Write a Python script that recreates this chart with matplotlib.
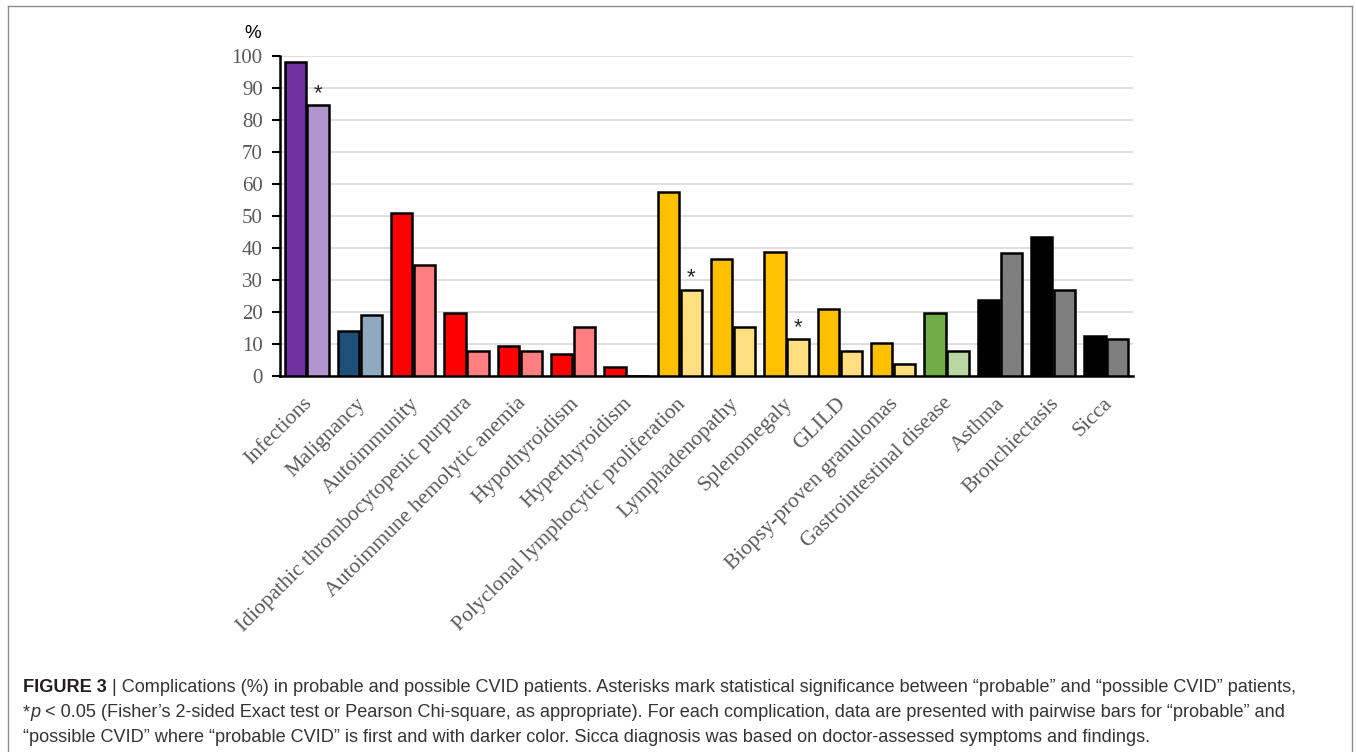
import matplotlib
matplotlib.use("Agg")
import matplotlib.pyplot as plt
import matplotlib.transforms as mtransforms
from matplotlib.lines import Line2D
import numpy as np

categories = [
    "Infections", "Malignancy", "Autoimmunity",
    "Idiopathic thrombocytopenic purpura", "Autoimmune hemolytic anemia",
    "Hypothyroidism", "Hyperthyroidism", "Polyclonal lymphocytic proliferation",
    "Lymphadenopathy", "Splenomegaly", "GLILD", "Biopsy-proven granulomas",
    "Gastrointestinal disease", "Asthma", "Bronchiectasis", "Sicca",
]
probable = [98.0, 14.2, 50.9, 19.8, 9.4, 6.8, 2.7, 57.5, 36.7, 38.7, 20.8, 10.4, 19.8, 23.7, 43.4, 12.5]
possible = [84.6, 19.2, 34.6, 7.7, 7.7, 15.4, 0.0, 26.9, 15.4, 11.5, 7.7, 3.8, 7.7, 38.5, 26.9, 11.5]
significant = [True, False, False, False, False, False, False, True,
               False, True, False, False, False, False, False, False]
yticks = [0, 10, 20, 30, 40, 50, 60, 70, 80, 90, 100]

dark_colors = ["#7030A0", "#1F4E79"] + ["#FF0000"] * 5 + ["#FFC000"] * 5 + ["#70AD47"] + ["#000000"] * 3
light_colors = ["#B294CF", "#8FA9C1"] + ["#FF7F80"] * 5 + ["#FFDF80"] * 5 + ["#B8D7A2"] + ["#7F7F7F"] * 3

W, H = 1356, 752
fig = plt.figure(figsize=(W / 100, H / 100), dpi=100)
ax = fig.add_axes([280 / W, 1 - 376 / H, (1133 - 280) / W, (376 - 56) / H])

x = np.arange(len(categories))
bw = 0.40
off = 0.215
ax.bar(x - off, probable, width=bw, color=dark_colors, edgecolor="black", linewidth=1.8, zorder=3)
ax.bar(x + off, possible, width=bw, color=light_colors, edgecolor="black", linewidth=1.8, zorder=3)

for xi, v, s in zip(x, possible, significant):
    if s:
        ax.text(xi + off, v + 2.0, "*", ha="center", va="baseline", fontsize=16,
                family=["Liberation Sans"], color="#262626", zorder=4)

ax.set_xlim(-0.5, len(categories) - 0.5)
ax.set_ylim(0, 100)
ax.set_yticks(yticks)
ax.set_yticklabels([str(t) for t in yticks], family=["Liberation Serif"], fontsize=15, color="#595959")
ax.yaxis.grid(True, color="#D9D9D9", linewidth=1.2, zorder=0)
ax.set_axisbelow(True)
ax.tick_params(axis="y", direction="out", length=5.5, width=1.5, pad=7, color="black")
ax.tick_params(axis="x", length=0, pad=13)
ax.set_xticks(x)
ax.set_xticklabels(categories, rotation=45, ha="right", va="top", rotation_mode="anchor",
                   family=["Liberation Serif"], fontsize=15.6, color="#595959")
shift = mtransforms.ScaledTranslation(-4 / 100, 0, fig.dpi_scale_trans)
for lab in ax.get_xticklabels():
    lab.set_transform(lab.get_transform() + shift)
for spine in ["top", "right"]:
    ax.spines[spine].set_visible(False)
ax.spines["left"].set_linewidth(1.8)
ax.spines["bottom"].set_linewidth(1.8)

fig.text(253 / W, 1 - 33 / H, "%", ha="center", va="center", fontsize=13.5,
         family=["Liberation Sans"], color="black")

# frame around the figure area
frame_color = "#8C8C8C"
fig.add_artist(Line2D([8 / W, 8 / W], [0, 1 - 6 / H], transform=fig.transFigure, color=frame_color, lw=1.0))
fig.add_artist(Line2D([1352 / W, 1352 / W], [0, 1 - 6 / H], transform=fig.transFigure, color=frame_color, lw=1.0))
fig.add_artist(Line2D([8 / W, 1352 / W], [1 - 6 / H, 1 - 6 / H], transform=fig.transFigure, color=frame_color, lw=1.0))

# caption
cap_lines = [
    [("FIGURE 3", "bold", "normal"),
     (" | Complications (%) in probable and possible CVID patients. Asterisks mark statistical significance between \u201cprobable\u201d and \u201cpossible CVID\u201d patients,", "normal", "normal")],
    [("*", "normal", "normal"), ("p", "normal", "italic"),
     (" < 0.05 (Fisher\u2019s 2-sided Exact test or Pearson Chi-square, as appropriate). For each complication, data are presented with pairwise bars for \u201cprobable\u201d and", "normal", "normal")],
    [("\u201cpossible CVID\u201d where \u201cprobable CVID\u201d is first and with darker color. Sicca diagnosis was based on doctor-assessed symptoms and findings.", "normal", "normal")],
]
baselines = [692, 717, 742]
cap_size = 13.1
fig.canvas.draw()
renderer = fig.canvas.get_renderer()
for line, yb in zip(cap_lines, baselines):
    xpos = 23
    for txt, weight, style in line:
        t = fig.text(xpos / W, 1 - yb / H, txt, ha="left", va="baseline", fontsize=cap_size,
                     family=["Liberation Sans"], fontweight=weight, fontstyle=style,
                     color="#231F20" if weight == "bold" else "#333333")
        bb = t.get_window_extent(renderer=renderer)
        xpos += bb.width

fig.savefig("out.png", dpi=100)
